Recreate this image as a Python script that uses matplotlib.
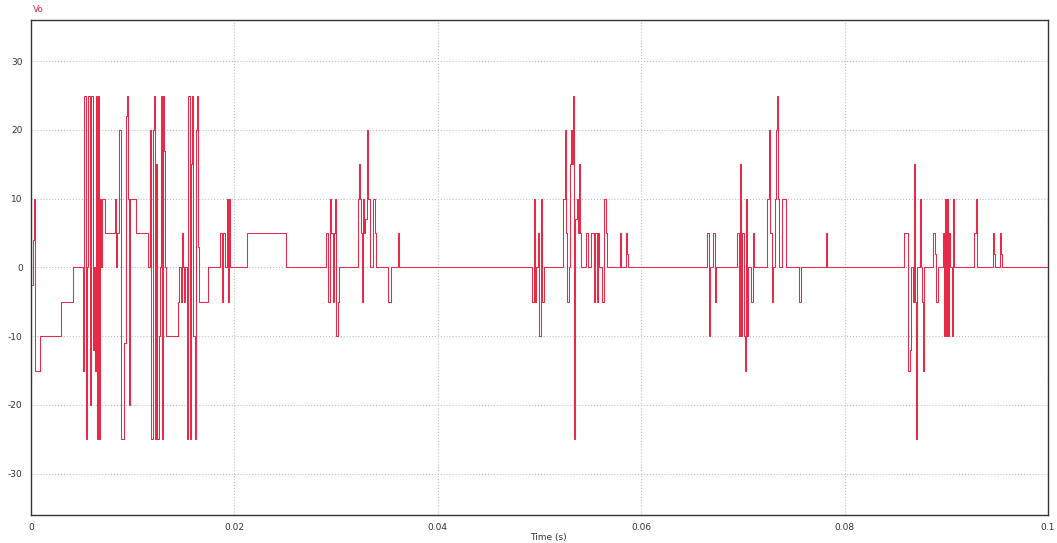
import matplotlib.pyplot as plt

plt.rcParams['axes.unicode_minus'] = False

# step waveform Vo: each value holds until the next time (ms)
time_ms = [0, 0.20, 0.30, 0.39, 0.89, 2.96, 4.14, 5.12, 5.22, 5.42, 5.52, 5.62, 5.81, 5.91,
           6.11, 6.21, 6.31, 6.40, 6.50, 6.60, 6.70, 6.80, 6.90, 7.00, 7.29, 8.28, 8.37, 8.47,
           8.67, 8.87, 9.16, 9.36, 9.46, 9.56, 9.65, 9.75, 10.34, 11.53, 11.72, 11.82, 12.02,
           12.12, 12.22, 12.32, 12.41, 12.61, 12.71, 12.81, 12.91, 13.00, 13.10, 13.20, 13.30,
           14.48, 14.58, 14.78, 14.88, 14.98, 15.07, 15.17, 15.37, 15.47, 15.67, 15.76, 15.86,
           15.96, 16.16, 16.26, 16.35, 16.45, 16.55, 17.44, 18.62, 18.82, 18.92, 19.11, 19.31,
           19.41, 19.51, 19.61, 21.28, 25.12,
           28.96, 29.16, 29.36, 29.46, 29.65, 29.75, 29.85, 29.95, 30.15, 30.25,
           32.12, 32.22, 32.31, 32.41, 32.51, 32.61, 32.71, 32.81, 33.00, 33.10, 33.30, 33.60,
           33.79, 33.89, 35.07, 35.37, 36.06, 36.16,
           49.26, 49.46, 49.56, 49.65, 49.85, 49.95, 50.15, 50.25, 50.44,
           52.31, 52.51, 52.61, 52.71, 52.91, 53.00, 53.10, 53.20, 53.30, 53.40, 53.50, 53.69,
           53.79, 53.89, 53.99, 54.09, 54.58, 54.78, 55.07, 55.37, 55.47, 55.67, 55.76, 55.86,
           56.16, 56.35, 56.55, 56.65, 57.93, 58.03, 58.52, 58.62, 58.72,
           66.50, 66.70, 66.80, 67.09, 67.29, 67.39,
           69.46, 69.66, 69.75, 69.85, 69.95, 70.15, 70.25, 70.34, 70.44, 70.54,
           70.84, 71.03, 71.13, 72.41, 72.61, 72.71, 72.90, 73.00, 73.20, 73.30, 73.40, 73.50,
           73.59, 73.89, 74.28, 75.47, 75.76, 78.13, 78.23,
           85.81, 86.21, 86.40, 86.50, 86.70, 86.80, 86.90, 87.00, 87.09, 87.39, 87.49, 87.59,
           87.69, 87.79, 88.68, 88.87, 88.97, 89.16, 89.65, 89.75, 89.85, 89.95, 90.05, 90.15,
           90.25, 90.34, 90.54, 90.64, 90.74, 92.71, 92.91, 93.00, 94.58, 94.68, 94.78, 95.27,
           95.37, 95.47, 100.0]
vo = [-2.5, 4, 10, -15, -10, -5, 0, -15, 25, -25, 0, 25, -20, 25,
      -12, 0, -15, 25, -25, 25, -25, 10, 0, 10, 5, 10, 0, 5,
      20, -25, -11, 22, 25, 10, -20, 10, 5, 0, 20, -25, 20,
      25, -25, 15, -25, -10, 0, 25, -25, 25, 17, 0, -10,
      -5, 0, -5, 5, 0, -5, 0, -25, 25, -25, 15, 25,
      -10, -25, 20, 25, 3, -5, 0, 5, -5, 5, 0, 10,
      -5, 10, 0, 5, 0,
      5, -5, 10, 5, -5, 5, 10, -10, -5, 0,
      10, 15, 10, 5, -5, 10, 5, 7, 20, 10, 0, 10,
      5, 0, -5, 0, 5, 0,
      -5, 10, -5, 0, 5, -10, 10, -5, 0,
      10, 20, 5, -5, 0, 15, 20, 15, 25, -25, 7, 10,
      5, 15, 5, 0, 5, 0, 5, -5, 5, -5, 5, 0,
      -5, 10, 5, 0, 5, 0, 5, 2, 0,
      5, -10, 0, 5, -5, 0,
      5, -10, 15, -10, 5, -10, -15, 10, -10, 0,
      -5, 5, 0, 10, 20, 5, -5, 0, 10, 20, 25, 10,
      0, 10, 0, -5, 0, 5, 0,
      5, -15, -12, 0, -5, 15, -5, -25, 0, 10, 0, -5,
      -15, 0, 5, 2, -5, 0, 5, -10, 10, -10, 10, -10,
      5, 0, -10, 10, 0, 5, 10, 0, 5, 2, 0, 5,
      2, 0, 0]

time_s = [t / 1000 for t in time_ms]

fig = plt.figure(figsize=(10.57, 5.43), dpi=100)
ax = fig.add_axes([0.0293, 0.0516, 0.9622, 0.9116])

ax.plot(time_s, vo, drawstyle='steps-post', color='#e62a48', linewidth=0.75)

ax.set_xlim(0, 0.1)
ax.set_ylim(-36, 36)
ax.set_xticks([0, 0.02, 0.04, 0.06, 0.08, 0.1])
ax.set_xticklabels(['0', '0.02', '0.04', '0.06', '0.08', '0.1'])
ax.set_yticks([-30, -20, -10, 0, 10, 20, 30])
ax.tick_params(length=0, labelsize=6.5, labelcolor='#333333', pad=6)
ax.grid(True, linestyle=':', color='#c0c0c0', linewidth=0.8)
for s in ax.spines.values():
    s.set_color('#333333')
    s.set_linewidth(1.0)

fig.text(0.031, 0.982, 'Vo', color='#e62a48', fontsize=6.5, ha='left', va='center')
fig.text(0.519, 0.011, 'Time (s)', color='#333333', fontsize=6.5, ha='center', va='center')

fig.savefig('out.png', dpi=100)
